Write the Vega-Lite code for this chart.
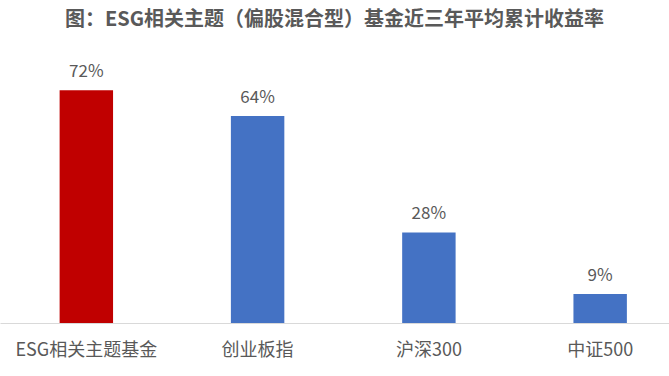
{
  "$schema": "https://vega.github.io/schema/vega-lite/v6.json",
  "width": 669,
  "height": 291,
  "autosize": {"type": "none"},
  "padding": {"left": 0, "top": 32, "right": 0, "bottom": 53},
  "background": "white",
  "title": {
    "text": "图：ESG相关主题（偏股混合型）基金近三年平均累计收益率",
    "font": "Noto Sans CJK SC",
    "fontSize": 20,
    "fontWeight": "bold",
    "color": "#595959",
    "anchor": "middle",
    "offset": 2
  },
  "config": {"view": {"stroke": null}, "font": "Noto Sans CJK SC"},
  "data": {
    "values": [
      {"name": "ESG相关主题基金", "value": 72, "label": "72%", "group": "esg"},
      {"name": "创业板指", "value": 64, "label": "64%", "group": "idx"},
      {"name": "沪深300", "value": 28, "label": "28%", "group": "idx"},
      {"name": "中证500", "value": 9, "label": "9%", "group": "idx"}
    ]
  },
  "encoding": {
    "x": {
      "field": "name",
      "type": "nominal",
      "sort": null,
      "scale": {"paddingInner": 0.688, "paddingOuter": 0.297, "align": 0.586},
      "axis": {
        "title": null,
        "labelAngle": 0,
        "ticks": false,
        "labelPadding": 18,
        "labelFontSize": 18,
        "labelColor": "#595959",
        "labelFont": "Noto Sans CJK SC",
        "domainColor": "#D9D9D9",
        "domainWidth": 1
      }
    },
    "y": {
      "field": "value",
      "type": "quantitative",
      "scale": {"domain": [0, 90]},
      "axis": null
    }
  },
  "layer": [
    {
      "mark": {"type": "bar"},
      "encoding": {
        "color": {
          "field": "group",
          "type": "nominal",
          "scale": {"domain": ["esg", "idx"], "range": ["#C00000", "#4472C4"]},
          "legend": null
        }
      }
    },
    {
      "mark": {"type": "text", "dy": -18, "fontSize": 17, "color": "#595959", "font": "Noto Sans CJK SC"},
      "encoding": {"text": {"field": "label"}}
    }
  ]
}
